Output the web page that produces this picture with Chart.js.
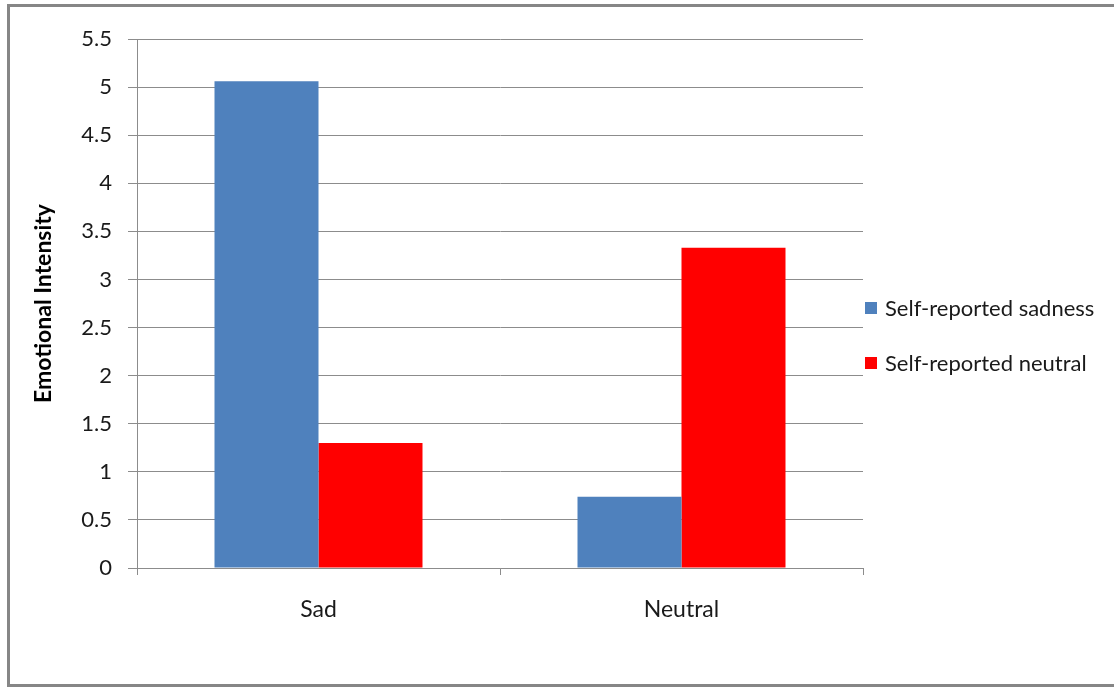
<!DOCTYPE html>
<html>
<head>
<meta charset="utf-8">
<script src="https://cdn.jsdelivr.net/npm/chart.js@4"></script>
<style>
  html, body { margin: 0; padding: 0; background: #fff; overflow: hidden; }
  #frame {
    position: absolute; left: 7px; top: 4px; width: 1130px; height: 683px;
    box-sizing: border-box; border: 3px solid #868686; border-right: none;
  }
  #wrap { position: absolute; left: 0; top: 0; width: 1114px; height: 689px; }
</style>
</head>
<body>
<div id="frame"></div>
<div id="wrap"><canvas id="chart"></canvas></div>
<script>
// chart data
const categories = ['Sad', 'Neutral'];
const seriesNames = ['Self-reported sadness', 'Self-reported neutral'];
const sadnessValues = [5.06, 0.74];
const neutralValues = [1.30, 3.33];
const yMax = 5.5;
const yStep = 0.5;

const FONT = 'Lato, "Open Sans", sans-serif';
const GRID = '#8c8c8c';

// legend drawn to the right of the plot, Excel-style
const sideLegend = {
  id: 'sideLegend',
  afterDraw(chart) {
    const ctx = chart.ctx;
    const area = chart.chartArea;
    const rows = [308, 363];
    ctx.save();
    ctx.font = '22px ' + FONT;
    ctx.textBaseline = 'middle';
    chart.data.datasets.forEach((ds, i) => {
      const y = rows[i];
      ctx.fillStyle = ds.backgroundColor;
      ctx.fillRect(area.right + 2, y - 6, 12, 12);
      ctx.fillStyle = '#1a1a1a';
      ctx.fillText(ds.label, area.right + 22, y + 1);
    });
    ctx.restore();
  }
};

const ctx = document.getElementById('chart').getContext('2d');
const myChart = new Chart(ctx, {
  type: 'bar',
  data: {
    labels: categories,
    datasets: [{
      label: seriesNames[0],
      data: sadnessValues,
      backgroundColor: '#4f81bd',
      borderWidth: 0
    }, {
      label: seriesNames[1],
      data: neutralValues,
      backgroundColor: '#ff0000',
      borderWidth: 0
    }]
  },
  options: {
    responsive: true,
    maintainAspectRatio: false,
    animation: false,
    layout: { padding: { top: 39, right: 251, bottom: 0, left: 0 } },
    plugins: {
      legend: { display: false },
      tooltip: { enabled: false }
    },
    datasets: {
      bar: { barPercentage: 1, categoryPercentage: 0.573 }
    },
    scales: {
      x: {
        grid: {
          offset: true,
          drawOnChartArea: false,
          drawTicks: true,
          tickLength: 7,
          color: GRID
        },
        border: { color: GRID, width: 1 },
        ticks: {
          color: '#1a1a1a',
          font: { family: FONT, size: 23 },
          padding: 21
        },
        afterFit(scale) { scale.height = 121; }
      },
      y: {
        min: 0,
        max: yMax,
        ticks: {
          stepSize: yStep,
          color: '#1a1a1a',
          font: { family: FONT, size: 22 },
          padding: 16,
          callback: (value) => String(Math.round(value * 10) / 10)
        },
        grid: { color: GRID, tickLength: 9, drawTicks: true },
        border: { color: GRID, width: 1 },
        title: {
          display: true,
          text: 'Emotional Intensity',
          color: '#000',
          font: { family: FONT, size: 23, weight: 'bold' },
          padding: { top: 30, bottom: 0 }
        },
        afterFit(scale) { scale.width = 137; }
      }
    }
  },
  plugins: [sideLegend]
});
</script>
</body>
</html>
